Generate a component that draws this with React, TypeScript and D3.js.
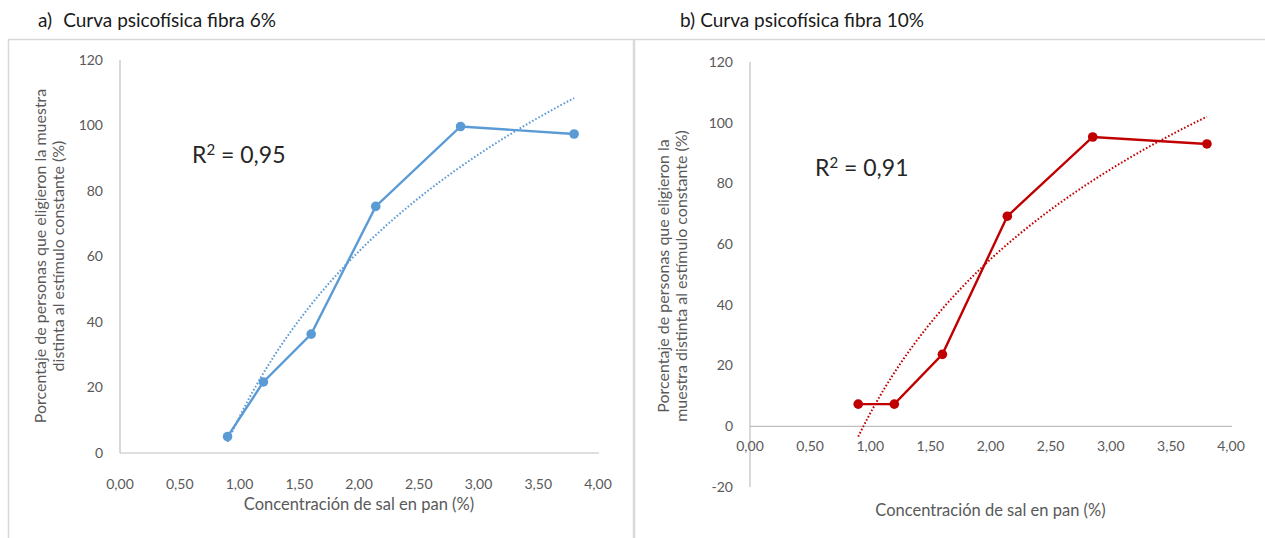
import React from 'react';
import * as d3 from 'd3';

// concentración de sal (%) - same for both panels
const saltConc = [0.9, 1.2, 1.6, 2.14, 2.85, 3.8];
const fibra6 = [5, 21.7, 36.3, 75.3, 99.7, 97.4];
const fibra10 = [7.3, 7.3, 23.7, 69.2, 95.3, 93];
const xTicks = [0, 0.5, 1, 1.5, 2, 2.5, 3, 3.5, 4];
const yTicksA = [0, 20, 40, 60, 80, 100, 120];
const yTicksB = [-20, 0, 20, 40, 60, 80, 100, 120];

const FONT = 'Lato, "Open Sans", sans-serif';
const fmt = (v: number) => v.toFixed(2).replace('.', ',');

// logarithmic trendline like Excel: y = a ln(x) + b
function logFit(xs: number[], ys: number[]) {
	const lx = xs.map(Math.log);
	const mx = d3.mean(lx) as number;
	const my = d3.mean(ys) as number;
	let sxy = 0, sxx = 0;
	lx.forEach((v, i) => { sxy += (v - mx) * (ys[i] - my); sxx += (v - mx) * (v - mx); });
	const a = sxy / sxx;
	const b = my - a * mx;
	return (x: number) => a * Math.log(x) + b;
}

type PanelProps = {
	label: string; title: string; titleX: number; titleGap: number;
	values: number[]; color: string; r2: string; r2x: number; r2y: number;
	x0: number; x1: number; yTop: number; yBottom: number;
	yDomain: [number, number]; yTicks: number[];
	axisTitle: string[]; axisTitleX: number; axisTitleY: number;
	xTitleY: number; xLabelY: number;
};

const Panel = (p: PanelProps) => {
	const x = d3.scaleLinear().domain([0, 4]).range([p.x0, p.x1]);
	const y = d3.scaleLinear().domain(p.yDomain).range([p.yBottom, p.yTop]);
	const line = d3.line<number>().x((d, i) => x(saltConc[i])).y(d => y(d));
	const fit = logFit(saltConc, p.values);
	const xsFit = d3.range(0, 101).map(i => saltConc[0] + (saltConc[saltConc.length - 1] - saltConc[0]) * i / 100);
	const fitLine = d3.line<number>().x(d => x(d)).y(d => y(fit(d)));
	const grey = '#595959';
	return (
		<g>
			<text x={p.titleX} y={27} fontSize={19} fill='#1a1a1a' fontFamily={FONT}>
				{p.label}<tspan dx={p.titleGap}>{p.title}</tspan>
			</text>
			{/* axes */}
			<line x1={p.x0} x2={p.x0} y1={y(p.yTicks[p.yTicks.length - 1])} y2={y(p.yTicks[0])} stroke='#bfbfbf' strokeWidth={1.2} />
			<line x1={p.x0} x2={p.x1 + 1} y1={y(0)} y2={y(0)} stroke='#bfbfbf' strokeWidth={1.2} />
			{p.yTicks.map(t => (
				<text key={t} x={p.x0 - 17} y={y(t)} dy='0.35em' textAnchor='end' fontSize={14} fill={grey} fontFamily={FONT}>{t}</text>
			))}
			{xTicks.map(t => (
				<text key={t} x={x(t)} y={p.xLabelY} dy='0.35em' textAnchor='middle' fontSize={14} fill={grey} fontFamily={FONT}>{fmt(t)}</text>
			))}
			<text x={(p.x0 + p.x1) / 2} y={p.xTitleY} dy='0.35em' textAnchor='middle' fontSize={16.5} fill={grey} fontFamily={FONT}>Concentración de sal en pan (%)</text>
			<text transform={`translate(${p.axisTitleX} ${p.axisTitleY}) rotate(-90)`} textAnchor='middle' fontSize={16} fill={grey} fontFamily={FONT}>
				{p.axisTitle.map((s, i) => <tspan key={i} x={0} dy={i === 0 ? 0 : 17.5}>{s}</tspan>)}
			</text>
			{/* trend */}
			<path d={fitLine(xsFit) as string} fill='none' stroke={p.color} strokeWidth={2} strokeDasharray='1.6 2' />
			{/* data */}
			<path d={line(p.values) as string} fill='none' stroke={p.color} strokeWidth={2.4} />
			{p.values.map((v, i) => <circle key={i} cx={x(saltConc[i])} cy={y(v)} r={4.8} fill={p.color} />)}
			<text x={p.r2x} y={p.r2y} dy='0.35em' fontSize={23} fill='#262626' fontFamily={FONT}>
				R<tspan dy={-8} fontSize={15}>2</tspan><tspan dy={8}> = {p.r2}</tspan>
			</text>
		</g>
	);
};

export default function App() {
	return (
		<svg width={1265} height={538} style={{ position: 'absolute', left: 0, top: 0, background: '#fff' }}>
			<rect x={8.5} y={39.5} width={625} height={510} fill='none' stroke='#d9d9d9' strokeWidth={1.5} />
			<rect x={634.5} y={39.5} width={640} height={510} fill='none' stroke='#d9d9d9' strokeWidth={1.5} />
			<Panel
				label='a)' title='Curva psicofísica fibra 6%' titleX={38} titleGap={11}
				values={fibra6} color='#5B9BD5' r2='0,95' r2x={192} r2y={155}
				x0={120} x1={598} yTop={60} yBottom={453}
				yDomain={[0, 120]} yTicks={yTicksA}
				axisTitle={['Porcentaje de personas que eligieron la muestra', 'distinta al estímulo constante (%)']}
				axisTitleX={46} axisTitleY={256} xTitleY={504} xLabelY={484}
			/>
			<Panel
				label='b)' title='Curva psicofísica fibra 10%' titleX={680} titleGap={5}
				values={fibra10} color='#C00000' r2='0,91' r2x={815} r2y={168}
				x0={750} x1={1231} yTop={62} yBottom={487}
				yDomain={[-20, 120]} yTicks={yTicksB}
				axisTitle={['Porcentaje de personas que eligieron la', 'muestra distinta al estímulo constante (%)']}
				axisTitleX={669} axisTitleY={276} xTitleY={510} xLabelY={446}
			/>
		</svg>
	);
}
